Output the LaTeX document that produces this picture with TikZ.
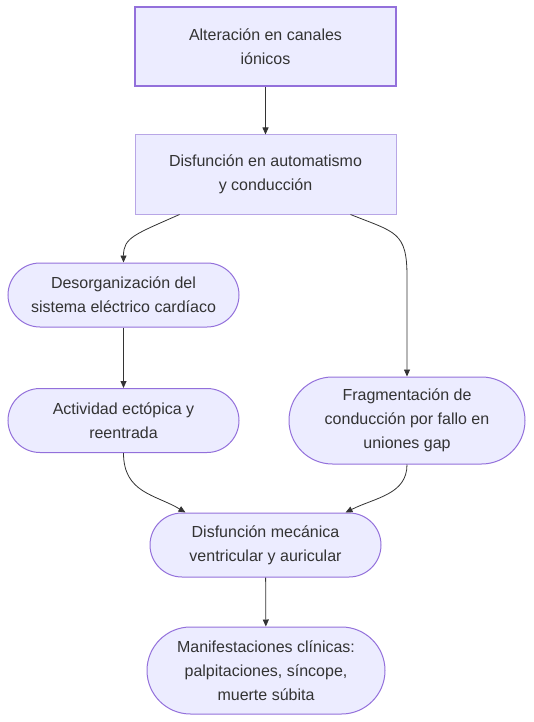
\documentclass[tikz,border=0pt]{standalone}
\usepackage{fontspec}
\setmainfont{Liberation Sans}
\usetikzlibrary{arrows.meta}
\definecolor{nfill}{HTML}{ECECFF}
\definecolor{nstroke}{HTML}{9370DB}
\definecolor{nstrokelight}{HTML}{B8A6E6}
\definecolor{txt}{HTML}{333333}
\tikzset{
  base/.style={fill=nfill, text=txt, align=center, inner sep=0pt,
    font=\fontsize{16}{24}\selectfont},
  boxthick/.style={base, draw=nstroke, line width=2.6pt, rectangle},
  boxthin/.style={base, draw=nstrokelight, line width=1pt, rectangle},
  pill/.style={base, draw=nstroke, line width=1pt, rectangle, rounded corners=#1},
  link/.style={draw=txt, line width=0.8pt, -{Triangle[length=7pt,width=6pt]}}
}
\begin{document}
\begin{tikzpicture}[x=1pt,y=-1pt]
\useasboundingbox (0,0) rectangle (533,722);
\node[boxthick, minimum width=261pt, minimum height=79pt] (n1) at (265.5,46.5) {Alteración en canales\\iónicos};
\node[boxthin, minimum width=261pt, minimum height=79pt] (n2) at (265.5,174.5) {Disfunción en automatismo\\y conducción};
\node[pill=32pt, minimum width=231pt, minimum height=64pt] (n3) at (123.5,295) {Desorganización del\\sistema eléctrico cardíaco};
\node[pill=32pt, minimum width=231pt, minimum height=64pt] (n4) at (123.5,420.5) {Actividad ectópica y\\reentrada};
\node[pill=43.5pt, minimum width=236pt, minimum height=87pt] (n5) at (407,420.5) {Fragmentación de\\conducción por fallo en\\uniones gap};
\node[pill=32pt, minimum width=231pt, minimum height=64pt] (n6) at (265.5,545) {Disfunción mecánica\\ventricular y auricular};
\node[pill=43.5pt, minimum width=238pt, minimum height=87pt] (n7) at (266,670.5) {Manifestaciones clínicas:\\palpitaciones, síncope,\\muerte súbita};

\draw[link] (n1) -- (n2);
\draw[link] ([xshift=-86pt]n2.south) .. controls +(-45,20) and +(0,-25) .. (n3.north);
\draw[link] ([xshift=85pt]n2.south) .. controls +(45,18) and +(0,-45) .. ([yshift=100pt]n5.north) -- (n5.north);
\draw[link] (n3) -- (n4);
\draw[link] (n4.south) .. controls +(0,40) and +(-30,-18) .. ([xshift=-80pt]n6.north);
\draw[link] (n5.south) .. controls +(0,30) and +(30,-15) .. ([xshift=80pt]n6.north);
\draw[link] (n6) -- (n7);
\end{tikzpicture}
\end{document}
